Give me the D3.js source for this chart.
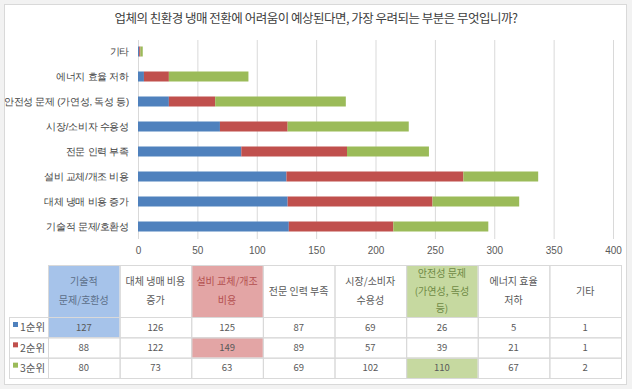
<!DOCTYPE html>
<html>
<head>
<meta charset="utf-8">
<script src="https://cdn.jsdelivr.net/npm/d3@7"></script>
<style>
  body { margin: 0; background: #f2f2f2; }
  svg { display: block; font-family: "Noto Sans CJK KR", "Noto Sans", sans-serif; }
  .grid line { stroke: #d9d9d9; }
  .grid path { display: none; }
  .xaxis path, .xaxis line { display: none; }
  .xaxis text { fill: #595959; font-size: 10px; }
  .yaxis path, .yaxis line { display: none; }
  .yaxis text { fill: #404040; font-size: 9.6px; letter-spacing: -0.25px; }
  .cell { stroke: #d9d9d9; fill: none; }
  .ttext { fill: #595959; font-size: 9.5px; }
</style>
</head>
<body>
<svg id="chart" width="632" height="389"></svg>
<script>
const title = "업체의 친환경 냉매 전환에 어려움이 예상된다면, 가장 우려되는 부분은 무엇입니까?";
const categories = ["기술적 문제/호환성", "대체 냉매 비용 증가", "설비 교체/개조 비용", "전문 인력 부족",
    "시장/소비자 수용성", "안전성 문제 (가연성, 독성 등)", "에너지 효율 저하", "기타"];
// header text of the data table, as wrapped in the picture
const tableHeaders = [["기술적", "문제/호환성"], ["대체 냉매 비용", "증가"], ["설비 교체/개조", "비용"],
    ["전문 인력 부족"], ["시장/소비자", "수용성"], ["안전성 문제", "(가연성, 독성", "등)"],
    ["에너지 효율", "저하"], ["기타"]];
const seriesNames = ["1순위", "2순위", "3순위"];
const rank1 = [127, 126, 125, 87, 69, 26, 5, 1];
const rank2 = [88, 122, 149, 89, 57, 39, 21, 1];
const rank3 = [80, 73, 63, 69, 102, 110, 67, 2];
const xTicks = [0, 50, 100, 150, 200, 250, 300, 350, 400];

const colors = ['#4f81bd', '#c0504d', '#9bbb59'];
const lightColors = ['#a6c3ea', '#e3a5a5', '#c6d9a0'];
const textColors = ['#5b6e88', '#b34f4f', '#6f8a45'];

const series = [rank1, rank2, rank3];
const rows = categories.map(function (c, i) {
    return {cat: c, r1: rank1[i], r2: rank2[i], r3: rank3[i]};
});

const svg = d3.select('#chart');

svg.append('rect')
    .attr('x', 4.5).attr('y', 4.5)
    .attr('width', 622).attr('height', 380)
    .attr('fill', '#fff')
    .attr('stroke', '#d9d9d9');

svg.append('text')
    .attr('x', 316)
    .attr('y', 23)
    .attr('text-anchor', 'middle')
    .attr('fill', '#404040')
    .style('font-size', '12.5px')
    .style('letter-spacing', '-0.5px')
    .text(title);

const xScale = d3.scaleLinear().domain([0, 400]).range([138, 613]);
const yScale = d3.scaleBand()
    .domain(categories.slice().reverse())
    .range([39, 239])
    .paddingInner(0.6)
    .paddingOuter(0.3);

svg.append('g')
    .attr('class', 'grid')
    .attr('transform', 'translate(0,239)')
    .call(d3.axisBottom(xScale).tickValues(xTicks).tickSize(-199).tickFormat(''));

svg.append('g')
    .attr('class', 'xaxis')
    .attr('transform', 'translate(0,244)')
    .call(d3.axisBottom(xScale).tickValues(xTicks).tickSize(0));

svg.append('g')
    .attr('class', 'yaxis')
    .attr('transform', 'translate(129,0)')
    .call(d3.axisLeft(yScale).tickSize(0).tickPadding(0));

const stacked = d3.stack().keys(['r1', 'r2', 'r3'])(rows);

svg.append('g')
    .selectAll('g')
    .data(stacked)
    .enter()
    .append('g')
    .attr('fill', function (d, i) { return colors[i]; })
    .selectAll('rect')
    .data(function (d) { return d; })
    .enter()
    .append('rect')
    .attr('x', function (d) { return xScale(d[0]); })
    .attr('y', function (d) { return yScale(d.data.cat); })
    .attr('width', function (d) { return xScale(d[1]) - xScale(d[0]); })
    .attr('height', yScale.bandwidth());

// data table
const colScale = d3.scaleBand().domain(d3.range(categories.length)).range([48, 621]);
const rowScale = d3.scaleBand().domain(d3.range(seriesNames.length)).range([317, 378]);
const headTop = 265;
const cw = colScale.bandwidth();
const rh = rowScale.bandwidth();

const table = svg.append('g');

// highlight the largest value of each series and its header
series.forEach(function (vals, s) {
    const c = d3.maxIndex(vals);
    table.append('rect')
        .attr('x', colScale(c)).attr('y', headTop)
        .attr('width', cw).attr('height', 317 - headTop)
        .attr('fill', lightColors[s]);
    table.append('rect')
        .attr('x', colScale(c)).attr('y', rowScale(s))
        .attr('width', cw).attr('height', rh)
        .attr('fill', lightColors[s]);
});

categories.forEach(function (c, i) {
    table.append('rect').attr('class', 'cell')
        .attr('x', colScale(i) + 0.5).attr('y', headTop + 0.5)
        .attr('width', cw).attr('height', 378 - headTop);
});
seriesNames.forEach(function (n, s) {
    table.append('rect').attr('class', 'cell')
        .attr('x', 9.5).attr('y', rowScale(s) + 0.5)
        .attr('width', 612).attr('height', rh);
});

tableHeaders.forEach(function (lines, i) {
    const s = series.findIndex(function (v) { return d3.maxIndex(v) === i; });
    const lh = lines.length > 2 ? 17.5 : 19;
    const cy = 291 - (lines.length - 1) * lh / 2;
    lines.forEach(function (t, k) {
        table.append('text')
            .attr('x', colScale(i) + cw / 2)
            .attr('y', cy + k * lh + 3.5)
            .attr('text-anchor', 'middle')
            .attr('fill', s >= 0 ? textColors[s] : '#595959')
            .style('font-size', '10px')
            .text(t);
    });
});

series.forEach(function (vals, s) {
    const top = rowScale(s);
    const m = d3.maxIndex(vals);
    table.append('rect')
        .attr('x', 13).attr('y', top + 5)
        .attr('width', 5).attr('height', 5)
        .attr('fill', colors[s]);
    table.append('text')
        .attr('x', 20).attr('y', top + rh / 2 + 4)
        .attr('fill', '#595959')
        .style('font-size', '10.5px')
        .text(seriesNames[s]);
    vals.forEach(function (v, i) {
        table.append('text')
            .attr('class', 'ttext')
            .attr('x', colScale(i) + cw / 2)
            .attr('y', top + rh / 2 + 3.5)
            .attr('text-anchor', 'middle')
            .attr('fill', i === m ? textColors[s] : '#595959')
            .text(v);
    });
});
</script>
</body>
</html>
